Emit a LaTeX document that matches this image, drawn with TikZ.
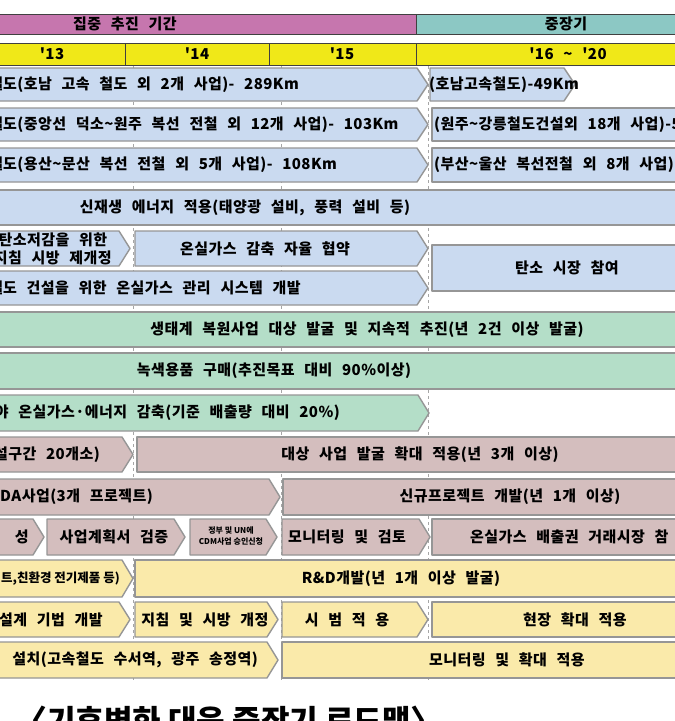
\documentclass[tikz,border=0pt]{standalone}
\usepackage{fontspec}
\setmainfont{Noto Sans CJK KR}
\newfontfamily\krs[LetterSpace=3,WordSpace=2.5]{Noto Sans CJK KR}
\newfontfamily\krn{Noto Sans CJK KR}
\definecolor{cpink}{RGB}{198,118,174}
\definecolor{cteal}{RGB}{140,200,196}
\definecolor{cyear}{RGB}{240,232,24}
\definecolor{cblue}{RGB}{202,218,240}
\definecolor{cgreen}{RGB}{180,222,200}
\definecolor{cmauve}{RGB}{212,190,190}
\definecolor{cyel}{RGB}{250,234,170}
\definecolor{edgegray}{RGB}{150,150,150}
\newcommand\chev[5]{\path[boxst, fill=#5] (#1,#3) -- ({#2-11},#3) -- (#2,{(#3+#4)/2}) -- ({#2-11},#4) -- (#1,#4) -- cycle;}
\newcommand\rbox[5]{\path[boxst, fill=#5] (#1,#3) rectangle (#2,#4);}
\newcommand\tl{\textasciitilde}
\begin{document}
\begin{tikzpicture}[x=1pt,y=-1pt,
  boxst/.style={draw=edgegray, line width=1.4pt, line join=round},
  lab/.style={font=\krs\bfseries\fontsize{15}{18}\selectfont, inner sep=0pt},
  labn/.style={font=\krn\bfseries\fontsize{12.5}{14}\selectfont, inner sep=0pt},
  hdr/.style={draw=black!75, line width=1pt},
  grid/.style={draw=gray!70, dashed, line width=0.5pt}]
\useasboundingbox (0,0) rectangle (675,721);
\clip (0,0) rectangle (675,721);
\fill[white] (0,0) rectangle (675,721);
% header
\draw[hdr, fill=cpink] (-20,14) rectangle (416,34);
\draw[hdr, fill=cteal] (416,14) rectangle (720,34);
\node[lab] (h1) at (125,24) {집중 추진 기간};
\node[lab] (h2) at (566,24) {중장기};
\draw[hdr, fill=cyear] (-20,43) rectangle (720,65);
\draw[hdr] (125,43) -- (125,65) (269,43) -- (269,65) (416,43) -- (416,65);
\node[lab] (y13) at (52,54) {'13};
\node[lab] (y14) at (197,54) {'14};
\node[lab] (y15) at (342,54) {'15};
\node[lab] (y16) at (568,54) {'16 \tl{} '20};
% grid
\draw[grid] (133,66) -- (133,680) (281,66) -- (281,680) (428,66) -- (428,680);
% row 1
\chev{-20}{428}{68}{101}{cblue}
\chev{430}{575}{68}{101}{cblue}
\node[lab, anchor=west] (t1a) at (3,84.5) {\llap{철}도(호남 고속 철도 외 2개 사업)- 289Km};
\node[lab] (t1b) at (504,84.5) {(호남고속철도)-49Km};
% row 2
\chev{-20}{428}{108}{141}{cblue}
\rbox{432}{700}{108}{141}{cblue}
\node[lab, anchor=west] (t2a) at (3,124.5) {\llap{철}도(중앙선 덕소\tl 원주 복선 전철 외 12개 사업)- 103Km};
\node[lab, anchor=west] (t2b) at (434,124.5) {(원주\tl 강릉철도건설외 18개 사업)-5};
% row 3
\chev{-20}{428}{148}{182}{cblue}
\rbox{432}{700}{148}{182}{cblue}
\node[lab, anchor=west] (t3a) at (3,165) {\llap{철}도(용산\tl 문산 복선 전철 외 5개 사업)- 108Km};
\node[lab, anchor=west] (t3b) at (434,165) {(부산\tl 울산 복선전철 외 8개 사업)-};
% row 4
\rbox{-20}{700}{190}{225}{cblue}
\node[lab] (t4) at (245,207.5) {신재생 에너지 적용(태양광 설비, 풍력 설비 등)};
% row 5-6
\chev{-20}{130}{231}{266}{cblue}
\node[lab, anchor=east, align=center] (t5a) at (112,248.5) {탄소저감을 위한\\지침 시방 제개정};
\chev{135}{428}{231}{266}{cblue}
\node[lab] (t5b) at (265,248.5) {온실가스 감축 자율 협약};
\chev{-20}{428}{271}{305}{cblue}
\node[lab, anchor=west] (t6) at (3,288) {\llap{철}도 건설을 위한 온실가스 관리 시스템 개발};
\rbox{432}{700}{245}{291}{cblue}
\node[lab] (t5c) at (567,268) {탄소 시장 참여};
% row 7-9 green
\rbox{-20}{700}{312}{347}{cgreen}
\node[lab] (t7) at (367,329.5) {생태계 복원사업 대상 발굴 및 지속적 추진(년 2건 이상 발굴)};
\rbox{-20}{700}{353}{389}{cgreen}
\node[lab] (t8) at (274,371) {녹색용품 구매(추진목표 대비 90\%이상)};
\chev{-20}{429}{395}{431}{cgreen}
\node[lab, anchor=east] (t9) at (340,413) {야 온실가스·에너지 감축(기준 배출량 대비 20\%)};
% row 10
\chev{-20}{133}{437}{472}{cmauve}
\node[lab, anchor=east] (t10a) at (100,454.5) {설구간 20개소)};
\rbox{137}{700}{437}{472}{cmauve}
\node[lab] (t10b) at (420,454.5) {대상 사업 발굴 확대 적용(년 3개 이상)};
% row 11
\chev{-20}{280}{479}{515}{cmauve}
\node[lab, anchor=east] (t11a) at (153,497) {ODA사업(3개 프로젝트)};
\rbox{283}{700}{479}{515}{cmauve}
\node[lab] (t11b) at (510,497) {신규프로젝트 개발(년 1개 이상)};
% row 12
\chev{-20}{44}{519}{555}{cmauve}
\node[lab, anchor=east] (t12a) at (29,537) {성};
\chev{47}{185}{519}{555}{cmauve}
\node[lab] (t12b) at (114,537) {사업계획서 검증};
\chev{190}{277}{519}{555}{cmauve}
\node[font=\krn\bfseries\fontsize{8}{10.5}\selectfont, inner sep=0pt, align=center] (t12c) at (231,536) {정부 및 UN에\\CDM사업 승인신청};
\chev{282}{430}{519}{555}{cmauve}
\node[lab] (t12d) at (347,537) {모니터링 및 검토};
\rbox{432}{700}{519}{555}{cmauve}
\node[lab, anchor=west] (t12e) at (470,537) {온실가스 배출권 거래시장 참};
% row 13
\chev{-20}{133}{560}{597}{cyel}
\node[labn, anchor=east] (t13a) at (120,578.5) {트,친환경 전기제품 등)};
\rbox{135}{700}{560}{597}{cyel}
\node[lab] (t13b) at (401,578.5) {R\&D개발(년 1개 이상 발굴)};
% row 14
\chev{-20}{130}{602}{637}{cyel}
\node[lab, anchor=east] (t14a) at (103,619.5) {설계 기법 개발};
\chev{135}{278}{602}{637}{cyel}
\node[lab] (t14b) at (205,619.5) {지침 및 시방 개정};
\chev{282}{428}{602}{637}{cyel}
\node[lab] (t14c) at (347,619.5) {시 범 적 용};
\rbox{432}{700}{602}{637}{cyel}
\node[lab] (t14d) at (575,619.5) {현장 확대 적용};
% row 15
\chev{-20}{278}{642}{678}{cyel}
\node[lab, anchor=east] (t15a) at (258,660) {설치(고속철도 수서역, 광주 송정역)};
\rbox{282}{700}{642}{678}{cyel}
\node[lab] (t15b) at (507,660) {모니터링 및 확대 적용};
% caption
\node[font=\krn\bfseries\fontsize{31}{33}\selectfont, inner sep=0pt, anchor=base west] (cap) at (16,732) {〈기후변화 대응 중장기 로드맵〉};
\end{tikzpicture}
\end{document}
